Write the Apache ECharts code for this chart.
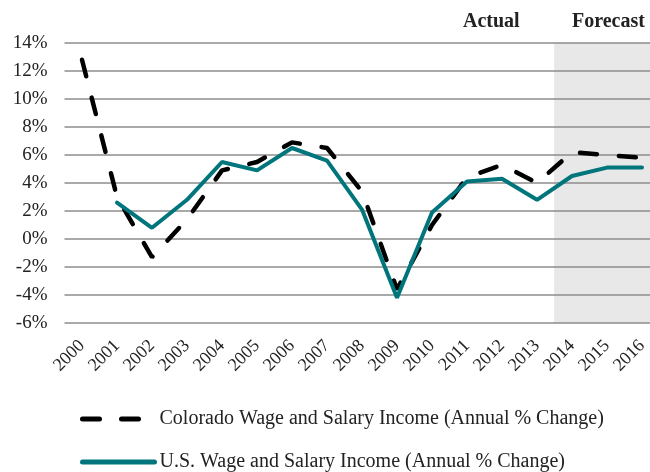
<!DOCTYPE html>
<html><head><meta charset="utf-8">
<script src="https://cdn.jsdelivr.net/npm/echarts@6/dist/echarts.min.js"></script>
<style>html,body{margin:0;padding:0;background:#fff;overflow:hidden}#c{width:660px;height:472px}</style>
</head><body><div id="c"></div>
<script>
var years = ['2000','2001','2002','2003','2004','2005','2006','2007','2008','2009','2010','2011','2012','2013','2014','2015','2016'];
var colorado = [12.8, 3.0, -1.3, 1.4, 4.9, 5.5, 6.9, 6.5, 3.4, -3.6, 1.0, 4.4, 5.3, 4.0, 6.2, 6.0, 5.8];
var us = [null, 2.6, 0.8, 2.8, 5.5, 4.9, 6.5, 5.6, 2.1, -4.2, 1.9, 4.1, 4.3, 2.8, 4.5, 5.1, 5.1];
var forecastTop = [null,null,null,null,null,null,null,null,null,null,null,null,null,null,14,14,14];
var forecastBottom = [null,null,null,null,null,null,null,null,null,null,null,null,null,null,-6,-6,-6];
var yTicks = {min: -6, max: 14, interval: 2};
var seriesNames = ['Colorado Wage and Salary Income (Annual % Change)', 'U.S. Wage and Salary Income (Annual % Change)'];

var FONT = 'Liberation Serif';
var chart = echarts.init(document.getElementById('c'), null, {renderer: 'canvas'});
chart.setOption({
  animation: false,
  textStyle: {fontFamily: FONT},
  grid: {left: 64.5, top: 43, right: 0.5, height: 280, containLabel: false},
  xAxis: {
    type: 'category', data: years, boundaryGap: true,
    axisLine: {show: false}, axisTick: {show: false},
    axisLabel: {rotate: 45, fontSize: 18, color: '#222', fontFamily: FONT, margin: 20, interval: 0}
  },
  yAxis: {
    type: 'value', min: yTicks.min, max: yTicks.max, interval: yTicks.interval,
    axisLine: {show: false}, axisTick: {show: false},
    axisLabel: {formatter: '{value}%', fontSize: 19, color: '#222', fontFamily: FONT, margin: 17},
    splitLine: {lineStyle: {color: '#8c8c8c', width: 1.5}}
  },
  legend: {
    orient: 'vertical', left: 75, top: 404, height: 120, itemGap: 23,
    itemWidth: 72, itemHeight: 14,
    itemStyle: {opacity: 0},
    lineStyle: {width: 5, cap: 'round'},
    data: seriesNames,
    textStyle: {fontSize: 20, color: '#222', fontFamily: FONT, padding: [0,0,0,0]}
  },
  graphic: [
    {type: 'text', left: 463, top: 12, style: {text: 'Actual', font: 'bold 20px "Liberation Serif"', fill: '#222'}},
    {type: 'text', left: 572, top: 12, style: {text: 'Forecast', font: 'bold 20px "Liberation Serif"', fill: '#222'}}
  ],
  series: [
    {type: 'bar', stack: 'fc', data: forecastTop, barCategoryGap: '-2%', itemStyle: {color: '#e8e8e8'}, silent: true, z: -1},
    {type: 'bar', stack: 'fc', data: forecastBottom, itemStyle: {color: '#e8e8e8'}, silent: true, z: -1},
    {name: seriesNames[0], type: 'line', data: colorado, symbol: 'none', z: 3,
     lineStyle: {color: '#000', width: 4.5, type: [17, 22], cap: 'round'}, itemStyle: {color: '#000'}},
    {name: seriesNames[1], type: 'line', data: us, symbol: 'none', z: 4,
     lineStyle: {color: '#00767c', width: 4, cap: 'round'}, itemStyle: {color: '#00767c'}}
  ]
});
</script></body></html>
